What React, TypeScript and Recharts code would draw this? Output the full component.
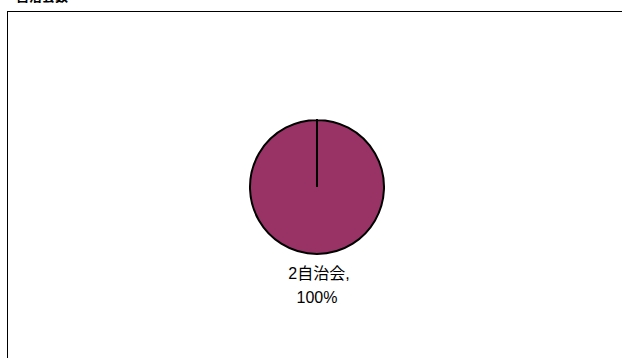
import React from 'react';
import { PieChart, Pie, Cell } from 'recharts';

const categories = ['2自治会'];
const values = [100];
const percents = ['100%'];
const sliceColors = ['#993366'];

const data = categories.map((name, i) => ({ name, value: values[i], percent: percents[i] }));

const renderLabel = (props: any) => {
    const { cx, cy, outerRadius, index } = props;
    const x = cx;
    const y = cy + outerRadius;
    return (
        <text x={x} fontSize={16} fill="#000" fontFamily="'Liberation Sans', Arial, 'Noto Sans CJK JP', sans-serif" textAnchor="middle">
            <tspan x={x + 2} y={y + 25}>{`${data[index].name},`}</tspan>
            <tspan x={x} y={y + 49}>{data[index].percent}</tspan>
        </text>
    );
};

export default function App() {
    return (
        <div style={{ position: 'absolute', left: 0, top: 0, width: 622, height: 358, background: '#fff', overflow: 'hidden' }}>
            <div
                style={{
                    position: 'absolute',
                    left: 7,
                    top: 11,
                    width: 700,
                    height: 500,
                    border: '1px solid #000',
                }}
            />
            <div
                style={{
                    position: 'absolute',
                    left: 16,
                    top: -12,
                    fontSize: 13,
                    fontWeight: 'bold',
                    fontFamily: "'Noto Sans CJK JP', sans-serif",
                    lineHeight: '16px',
                }}
            >
                自治会数
            </div>
            <div style={{ position: 'absolute', left: 0, top: 0 }}>
                <PieChart width={622} height={358}>
                    <Pie
                        data={data}
                        dataKey="value"
                        cx={312}
                        cy={182}
                        innerRadius={0}
                        outerRadius={67}
                        startAngle={90}
                        endAngle={-270}
                        stroke="#000"
                        strokeWidth={2}
                        label={renderLabel}
                        labelLine={false}
                        isAnimationActive={false}
                    >
                        {data.map((d, i) => (
                            <Cell key={d.name} fill={sliceColors[i]} />
                        ))}
                    </Pie>
                </PieChart>
            </div>
        </div>
    );
}
